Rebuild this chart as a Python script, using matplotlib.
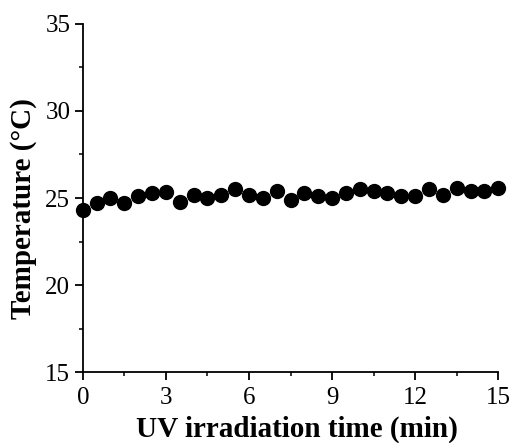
import matplotlib
matplotlib.use("Agg")
import matplotlib.pyplot as plt
from matplotlib.ticker import MultipleLocator

# UV irradiation time (min) and measured temperature (°C)
time_min = [0, 0.5, 1, 1.5, 2, 2.5, 3, 3.5, 4, 4.5, 5, 5.5, 6, 6.5, 7, 7.5,
            8, 8.5, 9, 9.5, 10, 10.5, 11, 11.5, 12, 12.5, 13, 13.5, 14, 14.5, 15]
temperature = [24.3, 24.7, 25.0, 24.7, 25.1, 25.3, 25.35, 24.8, 25.2, 25.0,
               25.2, 25.5, 25.2, 25.0, 25.4, 24.9, 25.3, 25.1, 25.0, 25.3,
               25.5, 25.4, 25.3, 25.1, 25.1, 25.5, 25.2, 25.6, 25.4, 25.4, 25.6]

plt.rcParams["font.family"] = ["Liberation Serif", "DejaVu Serif"]

fig = plt.figure(figsize=(5.11, 4.43), dpi=100)
ax = fig.add_axes([0.162, 0.160, 0.813, 0.786])

ax.plot(time_min, temperature, "o", color="black", markersize=10, clip_on=False)

ax.set_xlim(0, 15)
ax.set_ylim(15, 35)
ax.xaxis.set_major_locator(MultipleLocator(3))
ax.xaxis.set_minor_locator(MultipleLocator(1.5))
ax.yaxis.set_major_locator(MultipleLocator(5))
ax.yaxis.set_minor_locator(MultipleLocator(2.5))

for side in ("top", "right"):
    ax.spines[side].set_visible(False)
for side in ("left", "bottom"):
    ax.spines[side].set_linewidth(1.3)

ax.tick_params(which="major", direction="out", length=6, width=1.3, labelsize=18)
ax.tick_params(axis="x", which="major", pad=5)
ax.tick_params(axis="y", which="major", pad=3)
ax.tick_params(which="minor", direction="out", length=3, width=1.1)

ax.set_xlabel("UV irradiation time (min)", fontsize=21, fontweight="bold")
ax.set_ylabel("Temperature (°C)", fontsize=21, fontweight="bold")
ax.xaxis.set_label_coords(0.516, -0.124)
ax.yaxis.set_label_coords(-0.109, 0.47)

fig.savefig("out.png", dpi=100)
